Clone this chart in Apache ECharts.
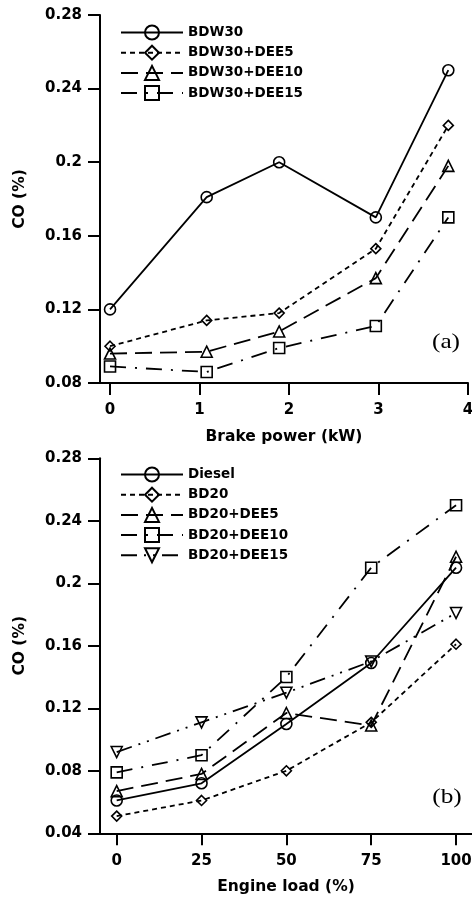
<!DOCTYPE html>
<html>
<head>
<meta charset="utf-8">
<script src="https://cdn.jsdelivr.net/npm/echarts@6/dist/echarts.min.js"></script>
<style>
  html, body { margin: 0; padding: 0; background: #fff; }
  #chart { width: 472px; height: 901px; }
</style>
</head>
<body>
<div id="chart"></div>
<script>
// (a) CO vs brake power
const powerKW = [0, 1.08, 1.89, 2.97, 3.78];
const powerTicks = [0, 1, 2, 3, 4];
const bdw30 = [0.120, 0.181, 0.200, 0.170, 0.250];
const bdw30Dee5 = [0.100, 0.114, 0.118, 0.153, 0.220];
const bdw30Dee10 = [0.096, 0.097, 0.108, 0.137, 0.198];
const bdw30Dee15 = [0.089, 0.086, 0.099, 0.111, 0.170];

// (b) CO vs engine load
const loadPct = [0, 25, 50, 75, 100];
const diesel = [0.061, 0.072, 0.110, 0.149, 0.210];
const bd20 = [0.051, 0.061, 0.080, 0.111, 0.161];
const bd20Dee5 = [0.067, 0.078, 0.117, 0.109, 0.217];
const bd20Dee10 = [0.079, 0.090, 0.140, 0.210, 0.250];
const bd20Dee15 = [0.092, 0.111, 0.130, 0.150, 0.181];

const FONT = 'DejaVu Sans';

function lineSeries(name, xs, ys, idx, symbol, size, dash, rotate) {
    return {
        name: name,
        type: 'line',
        xAxisIndex: idx,
        yAxisIndex: idx,
        data: xs.map((x, i) => [x, ys[i]]),
        symbol: symbol,
        symbolSize: size,
        symbolRotate: rotate || 0,
        showAllSymbol: true,
        lineStyle: { color: '#000', width: 1.8, type: dash },
        itemStyle: { color: 'rgba(0,0,0,0)', borderColor: '#000', borderWidth: 1.6 },
        emphasis: { disabled: true },
        z: 3
    };
}

function xAxisFor(idx, name, min, max, ticks) {
    return {
        type: 'value',
        gridIndex: idx,
        min: min,
        max: max,
        name: name,
        nameLocation: 'middle',
        nameGap: 46,
        nameTextStyle: { color: '#000', fontFamily: FONT, fontWeight: 'bold', fontSize: 15.5 },
        axisLine: { onZero: false, lineStyle: { color: '#000', width: 2 } },
        axisTick: { customValues: ticks, length: 12, lineStyle: { color: '#000', width: 2 } },
        axisLabel: { customValues: ticks, margin: 20, color: '#000', fontFamily: FONT, fontWeight: 'bold', fontSize: 15 },
        splitLine: { show: false }
    };
}

function yAxisFor(idx, min) {
    return {
        type: 'value',
        gridIndex: idx,
        min: min,
        max: 0.28,
        interval: 0.04,
        name: 'CO (%)',
        nameLocation: 'middle',
        nameGap: 72,
        nameTextStyle: { color: '#000', fontFamily: FONT, fontWeight: 'bold', fontSize: 15.5 },
        axisLine: { show: true, onZero: false, lineStyle: { color: '#000', width: 2 } },
        axisTick: { show: true, length: 12, lineStyle: { color: '#000', width: 2 } },
        axisLabel: { margin: 18, color: '#000', fontFamily: FONT, fontWeight: 'bold', fontSize: 15 },
        splitLine: { show: false }
    };
}

function legendFor(top, names) {
    return {
        orient: 'vertical',
        left: 120,
        top: top,
        padding: 0,
        data: names,
        itemWidth: 62,
        itemHeight: 17.5,
        itemGap: 4.2,
        selectedMode: false,
        iconRotate: 'inherit',
        textStyle: { color: '#000', fontFamily: FONT, fontWeight: 'bold', fontSize: 13.5 }
    };
}

const SHORT = [5, 4];
const LONG = [17, 8];
const DASHDOT = [16, 9, 2, 9];
const DASHDOTDOT = [16, 7, 2, 7, 2, 7];

const namesA = ['BDW30', 'BDW30+DEE5', 'BDW30+DEE10', 'BDW30+DEE15'];
const namesB = ['Diesel', 'BD20', 'BD20+DEE5', 'BD20+DEE10', 'BD20+DEE15'];

const option = {
    animation: false,
    backgroundColor: '#fff',
    grid: [
        { left: 100, right: 4, top: 15, height: 368, outerBoundsMode: 'none', containLabel: false },
        { left: 100, right: 0, top: 458.3, height: 375, outerBoundsMode: 'none', containLabel: false }
    ],
    xAxis: [
        xAxisFor(0, 'Brake power (kW)', -0.112, 4, powerTicks),
        xAxisFor(1, 'Engine load (%)', -4.92, 104.7, loadPct)
    ],
    yAxis: [yAxisFor(0, 0.08), yAxisFor(1, 0.04)],
    legend: [legendFor(24.5, namesA), legendFor(466.5, namesB)],
    graphic: [
        { type: 'text', x: 446, y: 342, scaleX: 1.15, style: { text: '(a)', fontFamily: 'Liberation Serif', fontSize: 22, textAlign: 'center', textVerticalAlign: 'middle', fill: '#000' } },
        { type: 'text', x: 447, y: 797, scaleX: 1.15, style: { text: '(b)', fontFamily: 'Liberation Serif', fontSize: 22, textAlign: 'center', textVerticalAlign: 'middle', fill: '#000' } }
    ],
    series: [
        lineSeries(namesA[0], powerKW, bdw30, 0, 'circle', 11, 'solid'),
        lineSeries(namesA[1], powerKW, bdw30Dee5, 0, 'diamond', 10, SHORT),
        lineSeries(namesA[2], powerKW, bdw30Dee10, 0, 'triangle', 11, LONG),
        lineSeries(namesA[3], powerKW, bdw30Dee15, 0, 'rect', 11, DASHDOT),
        lineSeries(namesB[0], loadPct, diesel, 1, 'circle', 11, 'solid'),
        lineSeries(namesB[1], loadPct, bd20, 1, 'diamond', 10, SHORT),
        lineSeries(namesB[2], loadPct, bd20Dee5, 1, 'triangle', 11, LONG),
        lineSeries(namesB[3], loadPct, bd20Dee10, 1, 'rect', 11, DASHDOT),
        lineSeries(namesB[4], loadPct, bd20Dee15, 1, 'triangle', 11, DASHDOTDOT, 180)
    ]
};

const chart = echarts.init(document.getElementById('chart'));
chart.setOption(option);
</script>
</body>
</html>
